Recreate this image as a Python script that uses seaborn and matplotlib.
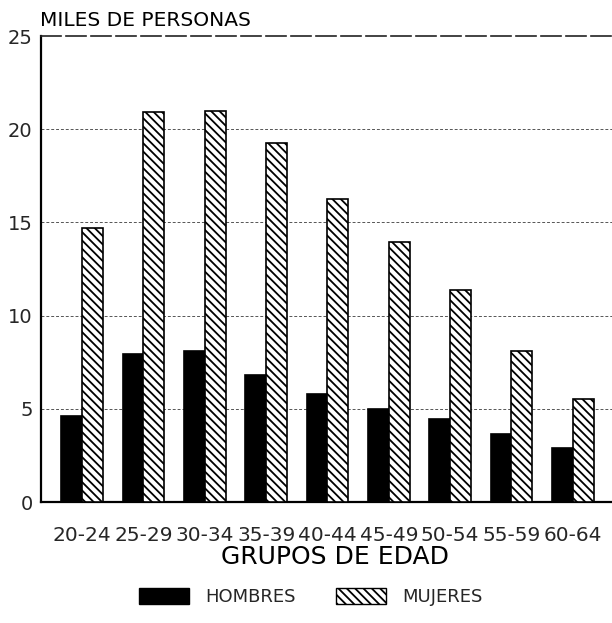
import matplotlib
matplotlib.use("Agg")
import matplotlib.pyplot as plt
import seaborn as sns
import pandas as pd
from matplotlib.patches import Patch

grupos = ["20-24", "25-29", "30-34", "35-39", "40-44", "45-49", "50-54", "55-59", "60-64"]
hombres = [4.6, 7.95, 8.1, 6.8, 5.8, 5.0, 4.45, 3.65, 2.9]
mujeres = [14.7, 20.9, 21.0, 19.25, 16.25, 13.95, 11.35, 8.1, 5.55]
series = ["HOMBRES", "MUJERES"]
yticks = [0, 5, 10, 15, 20, 25]

df = pd.DataFrame({
    "grupo": grupos * 2,
    "sexo": [series[0]] * len(grupos) + [series[1]] * len(grupos),
    "valor": hombres + mujeres,
})

sns.set_theme(style="white")
plt.rcParams["font.family"] = ["DejaVu Sans"]
plt.rcParams["hatch.linewidth"] = 1.3

fig = plt.figure(figsize=(6.12, 6.23), dpi=100)
ax = fig.add_axes([41 / 612, 1 - 502 / 623, 1 - 41 / 612, (502 - 36) / 623])

sns.barplot(data=df, x="grupo", y="valor", hue="sexo", order=grupos, hue_order=series,
            palette={"HOMBRES": "black", "MUJERES": "white"}, width=0.68,
            edgecolor="black", linewidth=1.2, legend=False, ax=ax, zorder=3)

for bar in ax.containers[1]:
    bar.set_hatch("\\\\\\\\")

ax.set_xlim(-0.67, 8.64)
ax.set_ylim(0, 25)
ax.set_yticks(yticks)
ax.set_yticklabels([str(t) for t in yticks], fontsize=14)
ax.tick_params(axis="y", length=0, pad=6)
ax.tick_params(axis="x", length=0, pad=17, labelsize=14.5)
ax.set_xlabel("")
ax.set_ylabel("")

for y in yticks[1:-1]:
    ax.axhline(y, color="#555555", lw=0.7, ls=(0, (3, 2)), zorder=1)

for s in ["left", "bottom"]:
    ax.spines[s].set_color("black")
    ax.spines[s].set_linewidth(1.6)
ax.spines["right"].set_visible(False)
ax.spines["top"].set_color("#222222")
ax.spines["top"].set_linewidth(1.2)
ax.spines["top"].set_linestyle((0, (12, 3)))

fig.text(40 / 612, 1 - 26 / 623, "MILES DE PERSONAS", fontsize=14.5, ha="left",
         va="baseline", color="black")
fig.text(335 / 612, 1 - 557 / 623, "GRUPOS DE EDAD", fontsize=18, ha="center",
         va="center", color="black")

handles = [Patch(facecolor="black", edgecolor="black", label=series[0]),
           Patch(facecolor="white", edgecolor="black", hatch="\\\\\\\\", label=series[1])]
fig.legend(handles=handles, loc="center", bbox_to_anchor=(311 / 612, 1 - 597 / 623),
           ncol=2, frameon=False, fontsize=13, handlelength=2.8, handleheight=1.0,
           columnspacing=2.2, handletextpad=0.9)

fig.savefig("out.png", dpi=100)
